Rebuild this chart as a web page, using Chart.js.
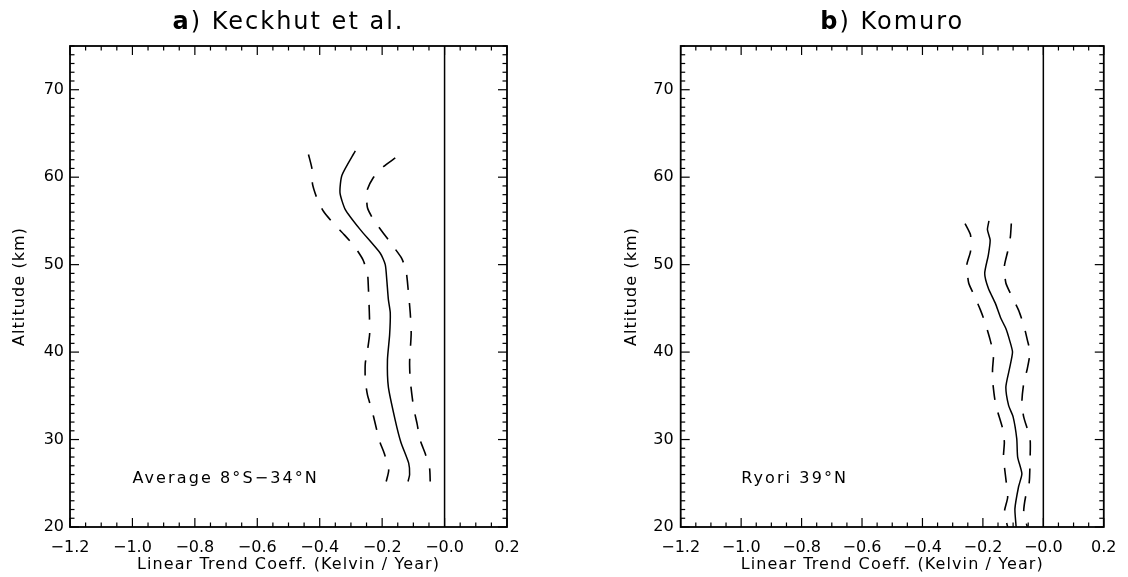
<!DOCTYPE html>
<html>
<head>
<meta charset="utf-8">
<script src="https://cdn.jsdelivr.net/npm/chart.js@4.4.1/dist/chart.umd.min.js"></script>
<style>
  html, body { margin: 0; padding: 0; background: #fff; }
  #wrap { position: relative; width: 1128px; height: 577px; }
  .panel { position: absolute; top: 0; height: 577px; }
</style>
</head>
<body>
<div id="wrap">
  <div class="panel" style="left:0;width:560px"><canvas id="chartA"></canvas></div>
  <div class="panel" style="left:560px;width:568px"><canvas id="chartB"></canvas></div>
</div>
<script>
// tick labels
var xTicks = [-1.2, -1.0, -0.8, -0.6, -0.4, -0.2, 0.0, 0.2];
var yTicks = [20, 30, 40, 50, 60, 70];

// panel a : Keckhut et al. (altitude km, trend K/yr)
var keckAlt      = [63.0, 60.2, 58.2, 56.3, 54.0, 51.3, 50.0, 48.2, 46.0, 44.5, 42.0, 39.1, 36.0, 32.2, 29.7, 27.3, 26.0, 25.2];
var keckTrend    = [-0.286, -0.329, -0.335, -0.318, -0.270, -0.206, -0.190, -0.185, -0.180, -0.174, -0.176, -0.183, -0.180, -0.158, -0.140, -0.115, -0.112, -0.117];
var keckLowAlt   = [62.6, 61.0, 59.2, 57.6, 56.1, 54.7, 53.4, 52.1, 50.6, 49.0, 47.3, 44.5, 42.1, 40.2, 38.7, 36.8, 35.1, 33.4, 31.8, 29.9, 28.4, 26.5, 25.2];
var keckLow      = [-0.436, -0.425, -0.423, -0.409, -0.388, -0.356, -0.321, -0.289, -0.262, -0.247, -0.244, -0.241, -0.240, -0.247, -0.254, -0.254, -0.247, -0.233, -0.222, -0.209, -0.193, -0.179, -0.187];
var keckHighAlt  = [62.2, 61.2, 59.9, 58.4, 56.5, 55.1, 53.6, 52.3, 50.7, 49.2, 47.3, 44.5, 42.1, 38.9, 36.8, 33.6, 31.8, 29.9, 28.4, 26.7, 25.2];
var keckHigh     = [-0.158, -0.196, -0.229, -0.249, -0.247, -0.227, -0.196, -0.169, -0.137, -0.123, -0.117, -0.110, -0.107, -0.112, -0.110, -0.099, -0.088, -0.078, -0.062, -0.048, -0.046];

// panel b : Komuro, Ryori (altitude km, trend K/yr)
var komAlt       = [55.0, 54.0, 52.8, 51.1, 49.0, 47.3, 45.6, 43.9, 42.7, 41.4, 40.0, 38.1, 36.0, 33.9, 32.6, 30.1, 28.0, 26.1, 24.6, 22.1, 20.0];
var komTrend     = [-0.180, -0.185, -0.176, -0.182, -0.194, -0.182, -0.159, -0.141, -0.124, -0.112, -0.102, -0.112, -0.124, -0.115, -0.100, -0.088, -0.085, -0.071, -0.082, -0.094, -0.090];
var komLowAlt    = [54.7, 53.4, 51.5, 50.0, 47.9, 46.5, 44.8, 43.5, 41.4, 39.7, 38.1, 36.8, 34.7, 33.4, 31.3, 29.7, 28.0, 25.5, 23.4, 21.7, 20.0];
var komLow       = [-0.259, -0.241, -0.241, -0.253, -0.247, -0.229, -0.208, -0.194, -0.176, -0.165, -0.168, -0.168, -0.161, -0.153, -0.135, -0.129, -0.132, -0.124, -0.118, -0.129, -0.118];
var komHighAlt   = [54.7, 53.2, 51.5, 49.8, 47.9, 46.5, 44.8, 43.1, 41.4, 40.0, 38.1, 36.4, 34.3, 32.6, 30.1, 27.6, 25.0, 23.4, 21.7, 20.0];
var komHigh      = [-0.106, -0.109, -0.118, -0.129, -0.124, -0.106, -0.082, -0.065, -0.053, -0.044, -0.053, -0.065, -0.071, -0.065, -0.044, -0.044, -0.047, -0.059, -0.065, -0.053];

var titles = [["a", ") Keckhut et al."], ["b", ") Komuro"]];
var notes = ["Average 8°S\u221234°N", "Ryori 39°N"];
var noteX = -1.0, noteY = 25.5;
var xTitle = "Linear Trend Coeff. (Kelvin / Year)";
var yTitle = "Altitude (km)";

var FONT = "'DejaVu Sans', sans-serif";

function pts(alt, val) {
  var out = [];
  for (var i = 0; i < alt.length; i++) out.push({ x: val[i], y: alt[i] });
  return out;
}

function line(ctx, x1, y1, x2, y2) {
  ctx.beginPath(); ctx.moveTo(x1, y1); ctx.lineTo(x2, y2); ctx.stroke();
}

// box and inward ticks on all four sides, titles, note
var frame = {
  id: 'frame',
  afterDraw: function (chart) {
    var ctx = chart.ctx, a = chart.chartArea;
    var xs = chart.scales.x, ys = chart.scales.y;
    var o = chart.options.plugins.frame;
    ctx.save();
    ctx.strokeStyle = '#000';
    ctx.lineWidth = 1.2;
    for (var i = 0; i <= 28; i++) {
      var px = xs.getPixelForValue(-1.2 + i * 0.05);
      var len = (i % 4 === 0) ? 9 : 4.5;
      line(ctx, px, a.bottom, px, a.bottom - len);
      line(ctx, px, a.top, px, a.top + len);
    }
    for (var k = 20; k <= 75; k++) {
      var py = ys.getPixelForValue(k);
      var l2 = (k % 10 === 0) ? 9 : 4.5;
      line(ctx, a.left, py, a.left + l2, py);
      line(ctx, a.right, py, a.right - l2, py);
    }
    ctx.lineWidth = 1.8;
    ctx.strokeRect(a.left, a.top, a.right - a.left, a.bottom - a.top);

    // title, first letter bold
    ctx.fillStyle = '#000';
    ctx.textBaseline = 'middle';
    ctx.textAlign = 'left';
    ctx.letterSpacing = '2px';
    ctx.font = 'bold 24px ' + FONT;
    var w1 = ctx.measureText(o.title[0]).width;
    ctx.font = '24px ' + FONT;
    var w2 = ctx.measureText(o.title[1]).width;
    var x0 = (a.left + a.right) / 2 - (w1 + w2) / 2;
    ctx.font = 'bold 24px ' + FONT;
    ctx.fillText(o.title[0], x0, 23);
    ctx.font = '24px ' + FONT;
    ctx.fillText(o.title[1], x0 + w1, 23);

    // station note
    ctx.letterSpacing = '2.1px';
    ctx.font = '16px ' + FONT;
    ctx.fillText(o.note, xs.getPixelForValue(noteX), ys.getPixelForValue(noteY));

    // axis titles
    ctx.letterSpacing = '1.1px';
    ctx.font = '16px ' + FONT;
    ctx.textAlign = 'center';
    ctx.fillText(xTitle, (a.left + a.right) / 2, 565);
    ctx.translate(o.yTitleX, (a.top + a.bottom) / 2);
    ctx.rotate(-Math.PI / 2);
    ctx.fillText(yTitle, 0, 0);
    ctx.restore();
  }
};

function xLabel(v) {
  var r = Math.round(v * 10) / 10;
  if (r === 0) return '\u22120.0';
  return (r < 0 ? '\u2212' : '') + Math.abs(r).toFixed(1);
}

function makePanel(id, sets, cfg) {
  var black = '#000';
  return new Chart(document.getElementById(id), {
    type: 'scatter',
    data: {
      datasets: [
        { data: pts(sets[0], sets[1]), showLine: true, borderColor: black, borderWidth: 1.5, pointRadius: 0, tension: 0.2 },
        { data: pts(sets[2], sets[3]), showLine: true, borderColor: black, borderWidth: 1.6, borderDash: [15, 13], pointRadius: 0, tension: 0.2 },
        { data: pts(sets[4], sets[5]), showLine: true, borderColor: black, borderWidth: 1.6, borderDash: [15, 13], pointRadius: 0, tension: 0.2 },
        { data: [{ x: 0, y: 20 }, { x: 0, y: 75 }], showLine: true, borderColor: black, borderWidth: 1.5, pointRadius: 0 }
      ]
    },
    options: {
      responsive: true,
      maintainAspectRatio: false,
      animation: false,
      layout: { padding: { top: 46, right: cfg.padRight, bottom: 0, left: 0 } },
      plugins: {
        legend: { display: false },
        tooltip: { enabled: false },
        frame: { title: cfg.title, note: cfg.note, yTitleX: cfg.yTitleX }
      },
      scales: {
        x: {
          type: 'linear', min: -1.2, max: 0.2,
          afterBuildTicks: function (s) { s.ticks = xTicks.map(function (v) { return { value: v }; }); },
          afterFit: function (s) { s.height = 50; },
          grid: { display: false, drawTicks: false },
          border: { display: false },
          ticks: { padding: 11.5, color: black, font: { family: FONT, size: 16 }, callback: xLabel, maxRotation: 0, autoSkip: false }
        },
        y: {
          type: 'linear', min: 20, max: 75,
          afterBuildTicks: function (s) { s.ticks = yTicks.map(function (v) { return { value: v }; }); },
          afterFit: function (s) { s.width = cfg.axisW; },
          grid: { display: false, drawTicks: false },
          border: { display: false },
          ticks: { padding: cfg.yPad, color: black, font: { family: FONT, size: 16 }, autoSkip: false }
        }
      }
    },
    plugins: [frame]
  });
}

makePanel('chartA', [keckAlt, keckTrend, keckLowAlt, keckLow, keckHighAlt, keckHigh],
  { padRight: 53, axisW: 70, yPad: 6, yTitleX: 20, title: titles[0], note: notes[0] });
makePanel('chartB', [komAlt, komTrend, komLowAlt, komLow, komHighAlt, komHigh],
  { padRight: 14.7, axisW: 120.7, yPad: 7, yTitleX: 72, title: titles[1], note: notes[1] });
</script>
</body>
</html>
